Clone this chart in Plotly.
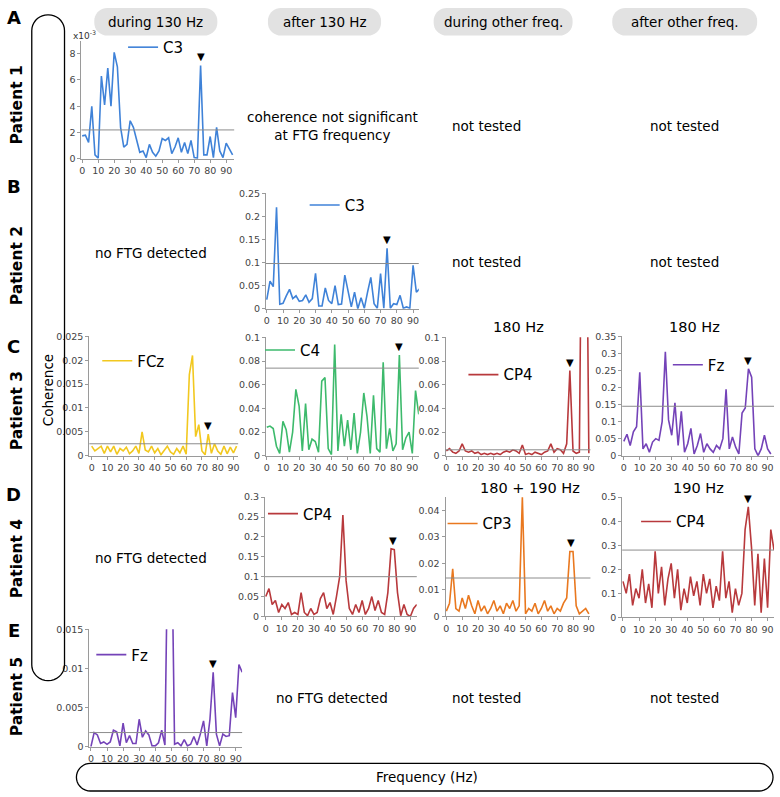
import numpy as np
import plotly.graph_objects as go

W, H = 780, 797

# frequency grid (Hz), shared by all spectra
FREQ = [0, 2, 4, 6, 8, 10, 12, 14, 16, 18, 20, 22, 24, 26, 28, 30, 32, 34, 36, 38, 40, 42, 44, 46,
        48, 50, 52, 54, 56, 58, 60, 62, 64, 66, 68, 70, 72, 74, 76, 78, 80, 82, 84, 86, 88, 90, 92, 94]

# coherence spectra
p1_c3_x1e3 = [1.75, 1.8, 1.25, 4.0, 0.3, 0.05, 6.3, 4.1, 6.9, 4.0, 8.1, 7.0, 2.4, 0.9, 1.1, 2.9,
              2.4, 1.4, 0.5, 0.6, 0.1, 1.1, 0.5, 0.2, 0.6, 1.55, 1.4, 1.6, 0.4, 0.9, 1.6, 0.5,
              1.25, 0.4, 1.4, 0.1, 0.05, 7.1, 0.3, 0.3, 1.7, 0.1, 2.4, 0.6, 0.1, 1.2, 0.8, 0.3]
p2_c3 = [0.02, 0.06, 0.048, 0.22, 0.01, 0.012, 0.028, 0.042, 0.022, 0.028, 0.016, 0.018, 0.03, 0.014,
         0.022, 0.077, 0.006, 0.006, 0.045, 0.018, 0.011, 0.05, 0.009, 0.01, 0.073, 0.036, 0.004, 0.036,
         0.0, 0.024, 0.001, 0.036, 0.068, 0.011, 0.001, 0.076, 0.001, 0.131, 0.001, 0.011, 0.009, 0.029,
         0.001, 0.004, 0.001, 0.094, 0.036, 0.043]
p3_fcz = [0.002, 0.001, 0.0015, 0.002, 0.0005, 0.002, 0.0008, 0.002, 0.0003, 0.0015, 0.001, 0.0018,
          0.0004, 0.001, 0.002, 0.0005, 0.005, 0.0012, 0.0008, 0.002, 0.0006, 0.0015, 0.0002, 0.001,
          0.002, 0.0008, 0.0003, 0.0015, 0.0006, 0.002, 0.0003, 0.017, 0.021, 0.004, 0.0065, 0.001,
          0.0002, 0.0045, 0.0005, 0.0025, 0.001, 0.0003, 0.002, 0.0004, 0.0018, 0.0006, 0.002]
p3_c4 = [0.024, 0.025, 0.023, 0.008, 0.002, 0.029, 0.022, 0.003, 0.02, 0.056, 0.042, 0.004, 0.044,
         0.005, 0.014, 0.012, 0.003, 0.063, 0.066, 0.006, 0.001, 0.094, 0.004, 0.035, 0.008, 0.03,
         0.005, 0.036, 0.002, 0.02, 0.053, 0.033, 0.002, 0.051, 0.006, 0.003, 0.079, 0.006, 0.023,
         0.004, 0.01, 0.085, 0.005, 0.015, 0.02, 0.002, 0.055, 0.035]
p3_cp4 = [0.004, 0.006, 0.003, 0.002, 0.004, 0.01, 0.004, 0.003, 0.004, 0.002, 0.003, 0.001, 0.002,
          0.001, 0.002, 0.001, 0.002, 0.001, 0.003, 0.004, 0.003, 0.005, 0.004, 0.002, 0.009, 0.001,
          0.002, 0.001, 0.003, 0.002, 0.001, 0.003, 0.004, 0.01, 0.003, 0.006, 0.005, 0.002, 0.01,
          0.072, 0.004, 0.002, 0.003, 0.3, 0.3, 0.002]
p3_fz = [0.042, 0.063, 0.03, 0.07, 0.085, 0.245, 0.02, 0.035, 0.01, 0.04, 0.05, 0.045, 0.1, 0.305,
         0.105, 0.06, 0.155, 0.03, 0.13, 0.01, 0.035, 0.08, 0.005, 0.03, 0.065, 0.01, 0.035, 0.02,
         0.01, 0.03, 0.02, 0.05, 0.195, 0.02, 0.055, 0.025, 0.005, 0.125, 0.14, 0.255, 0.23, 0.02,
         0.0, 0.02, 0.06, 0.02, 0.005]
p4_cp4_after = [0.05, 0.07, 0.03, 0.04, 0.01, 0.03, 0.02, 0.035, 0.005, 0.01, 0.005, 0.06, 0.01,
                0.002, 0.02, 0.005, 0.01, 0.045, 0.06, 0.02, 0.035, 0.005, 0.05, 0.1, 0.255, 0.09,
                0.02, 0.005, 0.03, 0.01, 0.04, 0.005, 0.02, 0.05, 0.015, 0.04, 0.01, 0.005, 0.06,
                0.17, 0.168, 0.06, 0.002, 0.03, 0.005, 0.0, 0.02, 0.03]
p4_cp3 = [0.002, 0.005, 0.018, 0.003, 0.002, 0.007, 0.003, 0.008, 0.004, 0.001, 0.006, 0.002, 0.004,
          0.001, 0.003, 0.006, 0.002, 0.004, 0.001, 0.005, 0.003, 0.006, 0.002, 0.004, 0.045, 0.001,
          0.003, 0.002, 0.005, 0.001, 0.003, 0.006, 0.002, 0.004, 0.001, 0.003, 0.002, 0.005, 0.007,
          0.0245, 0.0245, 0.004, 0.001, 0.002, 0.003, 0.001]
p4_cp4_other = [0.15, 0.1, 0.18, 0.05, 0.12, 0.08, 0.2, 0.06, 0.14, 0.04, 0.275, 0.1, 0.21, 0.05,
                0.16, 0.225, 0.08, 0.2, 0.03, 0.12, 0.06, 0.17, 0.09, 0.15, 0.05, 0.18, 0.1, 0.16,
                0.04, 0.13, 0.07, 0.275, 0.08, 0.15, 0.02, 0.12, 0.05, 0.1, 0.365, 0.46, 0.29, 0.05,
                0.265, 0.02, 0.245, 0.04, 0.365, 0.28]
p5_fz = [0.0, 0.0018, 0.0015, 0.0004, 0.0006, 0.0003, 0.0006, 0.0021, 0.0019, 0.0001, 0.003, 0.0005,
         0.0014, 0.0004, 0.0004, 0.0035, 0.0012, 0.002, 0.0015, 0.0001, 0.0001, 0.0005, 0.0021,
         0.0002, 0.03, 0.03, 0.0003, 0.0005, 0.0001, 0.0009, 0.0001, 0.0003, 0.0013, 0.0002, 0.0016,
         0.0033, 0.0001, 0.0035, 0.0095, 0.0016, 0.0001, 0.0016, 0.0013, 0.0014, 0.0069, 0.0037,
         0.0105, 0.0095]

series = [p1_c3_x1e3, p2_c3, p3_fcz, p3_c4, p3_cp4, p3_fz, p4_cp4_after, p4_cp3, p4_cp4_other, p5_fz]
channels = ['C3', 'C3', 'FCz', 'C4', 'CP4', 'Fz', 'CP4', 'CP3', 'CP4', 'Fz']
thresholds = [2.2, 0.098, 0.0025, 0.074, 0.005, 0.145, 0.1, 0.0145, 0.28, 0.0018]
ftg_freqs = [74, 74, 74, 82, 78, 78, 79, 79, 78, 76]
stim_titles = ['', '', '', '', '180 Hz', '180 Hz', '', '180 + 190 Hz', '190 Hz', '']

col_headers = ['during 130 Hz', 'after 130 Hz', 'during other freq.', 'after other freq.']
row_letters = ['A', 'B', 'C', 'D', 'E']
patients = ['Patient 1', 'Patient 2', 'Patient 3', 'Patient 4', 'Patient 5']
cell_notes = ['coherence not significant<br>at FTG frequency', 'not tested', 'not tested',
              'no FTG detected', 'not tested', 'not tested',
              'no FTG detected',
              'no FTG detected', 'not tested', 'not tested']

BLUE, YELLOW, GREEN = '#3f82d8', '#f2c81f', '#3dba6c'
RED, PURPLE, ORANGE = '#b8393c', '#7443b8', '#e9781f'
colors = [BLUE, BLUE, YELLOW, GREEN, RED, PURPLE, RED, ORANGE, RED, PURPLE]

# panel boxes in pixels: left, top, right, bottom
boxes = [(80, 35, 234, 155), (266, 190, 420, 307), (88, 335, 238, 456), (266, 336, 420, 456),
         (447, 336, 593, 456), (625, 335, 778, 456), (265, 498, 418, 619), (447, 498, 593, 619),
         (625, 498, 778, 620), (88, 632, 242, 751)]
xranges = [[-0.5, 95], [-0.5, 93.5], [-1.5, 93], [-0.5, 94], [-0.5, 91], [-1, 94],
           [-0.5, 94], [-0.5, 91], [-0.5, 94], [-1, 94]]
yranges = [[0, 9], [0, 0.25], [0, 0.025], [0, 0.1], [0, 0.1], [0, 0.35],
           [0, 0.3], [0, 0.045], [0, 0.5], [0, 0.015]]
ydticks = [2, 0.05, 0.005, 0.02, 0.02, 0.05, 0.05, 0.01, 0.1, 0.005]
legend_pos = [(122, 42), (305, 202), (96, 360), (260, 349), (465, 374), (671, 364),
              (263, 515), (444, 525), (639, 523), (90, 658)]
title_pos = [None, None, None, None, (520, 325), (698, 325), None, (532, 489), (702, 489), None]
note_pos = [(333, 122), (488, 122), (688, 122), (150, 250), (488, 260), (688, 260),
            (150, 560), (333, 702), (488, 702), (688, 702)]
header_boxes = [(155, 124), (325, 114), (505, 140), (688, 146)]
letter_y = [12, 183, 345, 495, 633]
patient_y = [100, 263, 410, 560, 700]

FONT = 'DejaVu Sans'


def fx(px):
    return px / W


def fy(py):
    return 1 - py / H


def pill_path(x0, y0, x1, y1, r):
    pts = []
    for cx, cy, a0 in [(x1 - r, y0 + r, -90), (x1 - r, y1 - r, 0), (x0 + r, y1 - r, 90), (x0 + r, y0 + r, 180)]:
        for a in np.linspace(a0, a0 + 90, 10):
            t = np.radians(a)
            pts.append((fx(cx + r * np.cos(t)), fy(cy + r * np.sin(t))))
    return 'M ' + ' L '.join(f'{x:.5f},{y:.5f}' for x, y in pts) + ' Z'


def paper_text(px, py, text, size, angle=0, anchor='center'):
    return dict(x=fx(px), y=fy(py), xref='paper', yref='paper', text=text, showarrow=False,
                xanchor=anchor, yanchor='middle', textangle=angle,
                font=dict(family=FONT, size=size, color='black'))


fig = go.Figure()
annotations = []
shapes = []
layout = {}

for i, vals in enumerate(series):
    n = '' if i == 0 else str(i + 1)
    leg = 'legend' if i == 0 else f'legend{i + 1}'
    x0, y0, x1, y1 = boxes[i]
    xs = FREQ[:len(vals)]
    fig.add_trace(go.Scatter(
        x=xs, y=vals, mode='lines', name=channels[i], line=dict(color=colors[i], width=1.6),
        xaxis=f'x{n}', yaxis=f'y{n}', legend=leg, showlegend=True, hoverinfo='skip',
    ))
    ax_style = dict(showline=True, linecolor='#9a9a9a', linewidth=1, showgrid=False, zeroline=False,
                    ticks='outside', ticklen=3, tickcolor='#9a9a9a',
                    tickfont=dict(family=FONT, size=9.5, color='#444'))
    layout[f'xaxis{n}'] = dict(ax_style, domain=[fx(x0), fx(x1)], anchor=f'y{n}', range=xranges[i],
                               tickmode='linear', tick0=0, dtick=10)
    layout[f'yaxis{n}'] = dict(ax_style, domain=[fy(y1), fy(y0)], anchor=f'x{n}', range=yranges[i],
                               tickmode='linear', tick0=0, dtick=ydticks[i])
    shapes.append(dict(type='line', xref=f'x{n} domain', x0=0, x1=1, yref=f'y{n}',
                       y0=thresholds[i], y1=thresholds[i], line=dict(color='#8c8c8c', width=1)))
    # FTG marker above the peak
    peak = max(v for f, v in zip(xs, vals) if abs(f - ftg_freqs[i]) <= 1.5)
    annotations.append(dict(x=ftg_freqs[i], y=peak, xref=f'x{n}', yref=f'y{n}', text='▼',
                            showarrow=False, xanchor='center', yanchor='bottom', yshift=1,
                            font=dict(family=FONT, size=10, color='black')))
    if stim_titles[i]:
        annotations.append(paper_text(*title_pos[i], stim_titles[i], 14.5))
    lx, ly = legend_pos[i]
    layout[leg] = dict(x=fx(lx), y=fy(ly), xanchor='left', yanchor='middle', bgcolor='rgba(0,0,0,0)',
                       borderwidth=0, font=dict(family=FONT, size=15, color='black'), itemwidth=30)

annotations.append(dict(x=fx(70), y=fy(29), xref='paper', yref='paper', text='x10<sup>-3</sup>',
                        showarrow=False, xanchor='left', yanchor='middle',
                        font=dict(family=FONT, size=9, color='#333')))

for text, (px, py) in zip(cell_notes, note_pos):
    annotations.append(paper_text(px, py, text, 13.5))

for text, (cx, w) in zip(col_headers, header_boxes):
    shapes.append(dict(type='path', xref='paper', yref='paper', path=pill_path(cx - w / 2, 2, cx + w / 2, 30, 13),
                       fillcolor='#e2e2e2', line=dict(width=0), layer='below'))
    annotations.append(paper_text(cx, 16, text, 13.5))

for letter, ly in zip(row_letters, letter_y):
    annotations.append(paper_text(12, ly, f'<b>{letter}</b>', 18))
for pat, py in zip(patients, patient_y):
    annotations.append(paper_text(15, py, f'<b>{pat}</b>', 15.5, angle=-90))

shapes.append(dict(type='path', xref='paper', yref='paper', path=pill_path(30, 9, 63, 684, 16),
                   fillcolor='rgba(0,0,0,0)', line=dict(color='black', width=1.3)))
annotations.append(paper_text(46, 390, 'Coherence', 13.5, angle=-90))
shapes.append(dict(type='path', xref='paper', yref='paper', path=pill_path(75, 768, 777, 796, 14),
                   fillcolor='rgba(0,0,0,0)', line=dict(color='black', width=1.3)))
annotations.append(paper_text(428, 782, 'Frequency (Hz)', 13.5))

fig.update_layout(
    width=W, height=H, margin=dict(l=0, r=0, t=0, b=0),
    paper_bgcolor='white', plot_bgcolor='white',
    font=dict(family=FONT), shapes=shapes, annotations=annotations, **layout,
)

# the page body adds an 8px margin by default; remove it so the figure fills the window
fig.write_html('out.html', config={'displayModeBar': False},
               post_script="document.body.style.margin='0px';")
